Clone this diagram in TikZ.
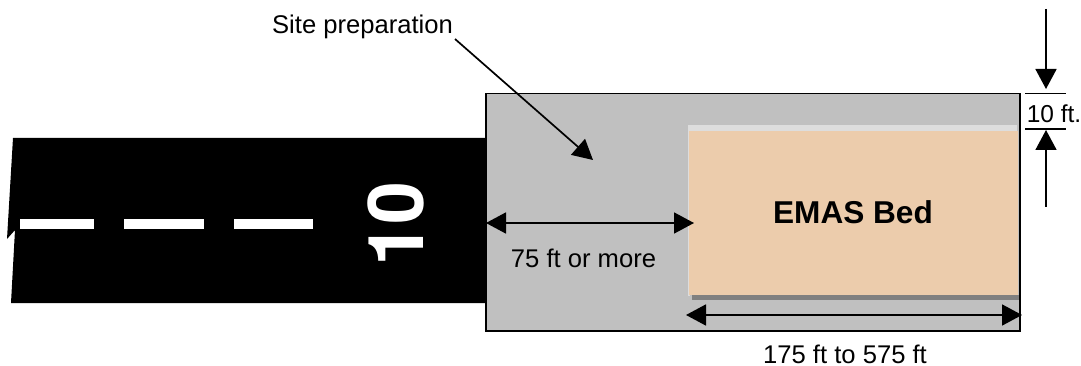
\documentclass[tikz,border=0pt]{standalone}
\usepackage{fontspec}
\setmainfont{Liberation Sans}
\newfontfamily\heros{TeX Gyre Heros}
\usetikzlibrary{arrows.meta}
\definecolor{sitegrey}{RGB}{192,192,192}
\definecolor{bedfill}{RGB}{236,204,172}
\definecolor{bedtop}{RGB}{221,221,221}
\definecolor{bedlow}{RGB}{128,128,128}
\tikzset{
  dimline/.style={draw=black,line width=1.7pt,-{Triangle[length=20pt,width=21pt]}},
  bothline/.style={draw=black,line width=1.7pt,{Triangle[length=20pt,width=21pt]}-{Triangle[length=20pt,width=21pt]}},
  tickline/.style={draw=black,line width=1.5pt},
  lbl/.style={inner sep=0pt,font=\fontsize{25.6}{30}\selectfont,text=black},
  dashbar/.style={fill=white,draw=none},
}
\begin{document}
\begin{tikzpicture}[x=1pt,y=-1pt]
\useasboundingbox (0,0) rectangle (1081,366);
% runway
\fill[black] (13,138) -- (486,138) -- (486,303) -- (11,303) -- (15,230) -- (7,239) -- cycle;
\fill[dashbar] (20,219) rectangle (94,229);
\fill[dashbar] (124,219) rectangle (204,229);
\fill[dashbar] (234,219) rectangle (313,229);
\node[inner sep=0pt,rotate=90,text=white,font=\heros\fontsize{77}{80}\selectfont\bfseries] (rwy) at (396,224) {10};
% site area
\draw[fill=sitegrey,draw=black,line width=1.8pt] (486,93.5) rectangle (1020,331);
% bed
\fill[bedtop] (688,125) rectangle (1017,131);
\fill[bedtop] (688,131) rectangle (690,296);
\fill[bedlow] (692,295) rectangle (1020,300);
\fill[bedfill] (689,131) rectangle (1018,295);
\draw[black,line width=1.8pt] (1020,93.5) -- (1020,331);
\node[lbl,font=\fontsize{31.6}{36}\selectfont\bfseries] (bed) at (853,212) {EMAS Bed};
% labels
\node[lbl] (site) at (362.5,27) {Site preparation};
\node[lbl] (wide) at (583.5,258) {75 ft or more};
\node[lbl] (long) at (845,354.5) {175 ft to 575 ft};
\node[lbl,font=\fontsize{24.5}{30}\selectfont] (ten) at (1054,114) {10 ft.};
% arrow ends
\coordinate (sitefrom) at (455,39);
\coordinate (siteto) at (593,160);
\coordinate (wl) at (486,223);
\coordinate (wr) at (694,223);
\coordinate (ll) at (686,315);
\coordinate (lr) at (1022,315);
\coordinate (ttop) at (1046,9);
\coordinate (tbot) at (1046,89);
\coordinate (btop) at (1046,130);
\coordinate (bbot) at (1046,207);
\coordinate (tick1a) at (1025,93.5);
\coordinate (tick1b) at (1066,93.5);
\coordinate (tick2a) at (1025,129);
\coordinate (tick2b) at (1066,129);
\draw[dimline] (sitefrom) -- (siteto);
\draw[bothline] (wl) -- (wr);
\draw[bothline] (ll) -- (lr);
\draw[dimline] (ttop) -- (tbot);
\draw[dimline] (bbot) -- (btop);
\draw[tickline] (tick1a) -- (tick1b);
\draw[tickline] (tick2a) -- (tick2b);
\end{tikzpicture}
\end{document}
